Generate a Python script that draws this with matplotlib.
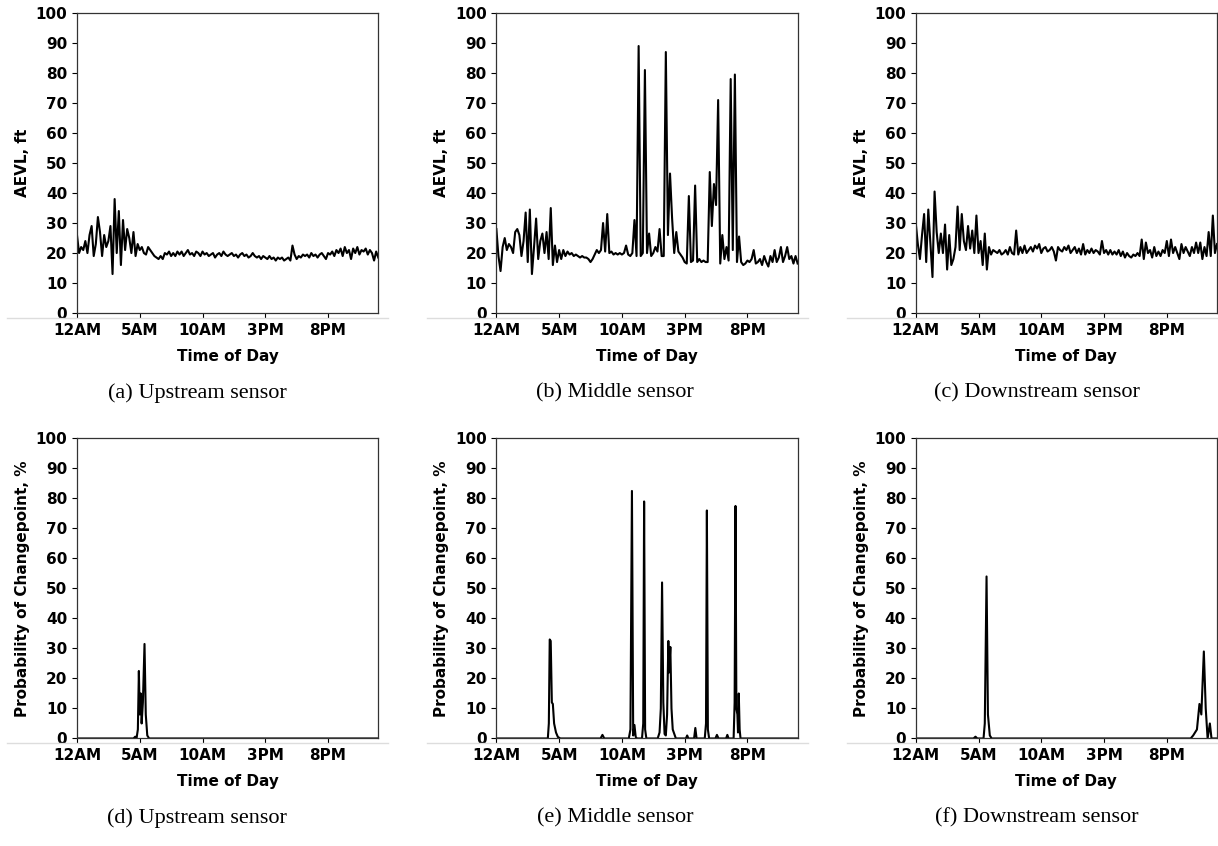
import numpy as np
import matplotlib
matplotlib.use("Agg")
import matplotlib.pyplot as plt
from matplotlib.lines import Line2D

# ------------------------------
# data (AEVL every 10 min, 12AM -> 12AM)
# ------------------------------
aevl_upstream = [
    26, 20, 22, 21, 24, 20, 26, 29, 19, 23, 32, 27, 19, 26, 22, 24, 29, 13, 38, 20,
    34, 16, 31, 21, 28, 25, 20, 27, 19, 23, 21,
    22, 20, 19.5, 22, 21, 20, 19, 18.5, 18, 19, 18, 20, 19.5, 20.5, 19, 20, 19, 20.5,
    19.5, 20.5, 19, 20, 21, 19.5, 20, 19, 20.5, 20, 19, 20.5, 19.5, 20, 19, 19.5,
    20, 18.5, 19.5, 20, 19, 20.5, 19.5, 19,
    19.5, 20, 19, 19.5, 18.5, 19.5, 20, 19, 19.5, 18.5, 19, 20, 19, 18.5, 19, 18,
    19, 18.5, 18, 19, 18, 18.5, 17.5, 18.5,
    18, 18.5, 17.5, 18, 18.5, 17.5, 22.5, 19.5, 18, 19, 18.5, 19.5, 19, 19.5, 18.5,
    20, 19, 19.5, 18.5, 19.5, 20, 19, 18, 20,
    19.5, 20.5, 19, 21, 20, 21.5, 19, 22, 20, 21, 18, 21.5, 20, 22, 19.5, 21, 20.5,
    21.5, 19.5, 21, 20, 17.5, 20.5, 18.5,
]

aevl_middle = [
    28, 19, 14, 22, 25, 21, 23, 22, 20, 27, 28, 26, 19, 24, 33.5, 17, 34.5, 13, 22, 31.5,
    18, 24, 26.5, 20, 27, 18, 35, 16, 22.5, 17, 21, 18, 21, 19, 20.5, 19.5, 20, 19, 19.5, 19,
    18.5, 19, 18.5, 18.5, 18, 17, 18, 19.5, 21, 20, 21, 30, 20.5, 33, 20, 20.5, 19.5, 20, 19.5, 20,
    19.5, 20, 22.5, 19.5, 19, 20, 31, 19, 89, 19, 20, 81, 20, 26.5, 19, 20, 22, 20.5, 28, 19,
    19, 87, 26, 46.5, 31.5, 20, 27, 20.5, 19.5, 18.5, 17, 16.5, 39, 17, 17.5, 42.5, 17, 18, 17, 17.5,
    17, 17, 47, 29, 43, 36, 71, 16.5, 26, 18, 22, 17.5, 78, 21, 79.5, 17, 25.5, 17, 16, 16.5,
    17.5, 17, 18, 21, 16.5, 17, 18, 16, 19, 17, 15.5, 19, 17, 21, 17, 18.5, 22, 17, 19, 22,
    18, 19, 16.5, 19, 16.5,
]

aevl_downstream = [
    30, 23, 18, 26, 33, 17, 34.5, 23, 12, 40.5, 27, 20, 26.5, 20, 29.5, 14.5, 26, 16, 18, 22,
    35.5, 21, 33, 24, 21, 29, 21.5, 27.5, 20, 32.5, 20, 24, 16, 26.5, 14.5, 22, 19.5, 21, 20.5, 20,
    21, 19.5, 20, 21, 19.5, 22, 20, 19.5, 27.5, 19.5, 22, 20, 22.5, 20, 21, 22, 20.5, 22.5, 21.5, 23,
    20, 21.5, 22, 20.5, 21, 22, 20.5, 17.5, 22, 21, 20.5, 22, 21, 22.5, 20, 21, 22, 20, 21.5, 19.5,
    23, 19.5, 21, 20, 21.5, 20, 21, 20.5, 19.5, 24, 20, 21, 19.5, 21, 19.5, 20.5, 19.5, 21, 19, 20.5,
    18.5, 20, 19, 18.5, 19.5, 19, 20, 19, 24.5, 18, 23.5, 20, 21, 18.5, 22, 19, 20.5, 19, 21, 20,
    24, 19, 24.5, 20, 22, 20, 18, 23, 20, 22, 20.5, 19, 22, 20, 23.5, 20, 23.5, 18, 22, 19,
    27, 19, 32.5, 20, 23,
]

# changepoint probability, (hour, %) break points
prob_up_t = [0, 4.5, 4.64, 4.75, 4.85, 4.93, 5.0, 5.08, 5.15, 5.25, 5.38, 5.48, 5.6, 5.75, 24]
prob_up_v = [0, 0, 0.6, 0.2, 3, 22.5, 8, 15, 5, 12, 31.5, 8, 1, 0, 0]

prob_mid_t = [0, 4.1, 4.18, 4.25, 4.33, 4.42, 4.5, 4.6, 4.75, 4.9, 5.1,
              8.3, 8.45, 8.6,
              10.55, 10.68, 10.8, 10.9, 11.0, 11.1, 11.2,
              11.6, 11.7, 11.77, 11.85, 11.95,
              12.85, 13.0, 13.1, 13.2, 13.3, 13.4, 13.5, 13.6, 13.7, 13.76, 13.86, 13.95, 14.05, 14.3,
              15.1, 15.2, 15.3, 15.75, 15.85, 15.95,
              16.6, 16.7, 16.77, 16.85, 16.95,
              17.45, 17.57, 17.7,
              18.3, 18.4, 18.5,
              18.9, 18.98, 19.05, 19.12, 19.2, 19.25, 19.31, 19.38, 19.45, 24]
prob_mid_v = [0, 0, 5, 33, 32.5, 12, 11.5, 5, 2, 0.5, 0,
              0, 1.2, 0,
              0, 3, 82.5, 1, 4.5, 0.5, 0,
              0, 5, 79, 3, 0,
              0, 2, 10, 52, 12, 1.5, 1, 8, 32.5, 22, 30.5, 10, 3, 0,
              0, 1, 0, 0, 3.5, 0,
              0, 5, 76, 3, 0,
              0, 1.2, 0,
              0, 1.2, 0,
              0, 12, 77.5, 10, 8, 2, 15, 3, 0, 0]

prob_down_t = [0, 4.6, 4.76, 4.9, 5.4, 5.5, 5.64, 5.75, 5.9, 6.05,
               21.9, 22.1, 22.4, 22.6, 22.75, 22.95, 23.1, 23.25, 23.43, 23.56, 24]
prob_down_v = [0, 0, 0.6, 0, 0, 5, 54, 8, 1, 0,
               0, 1, 3, 11.5, 8, 29, 10, 0, 5, 0, 0]

hour_ticks = [0, 5, 10, 15, 20]
hour_labels = ["12AM", "5AM", "10AM", "3PM", "8PM"]
captions = ["(a) Upstream sensor", "(b) Middle sensor", "(c) Downstream sensor",
            "(d) Upstream sensor", "(e) Middle sensor", "(f) Downstream sensor"]

# ------------------------------
# figure
# ------------------------------
fig, axes = plt.subplots(2, 3, figsize=(12.18, 8.46), dpi=100)
fig.subplots_adjust(left=0.0632, right=0.9992, top=0.9846, bottom=0.1271,
                    wspace=0.392, hspace=0.418)

top_series = [aevl_upstream, aevl_middle, aevl_downstream]
bottom_series = [(prob_up_t, prob_up_v), (prob_mid_t, prob_mid_v), (prob_down_t, prob_down_v)]

for j in range(3):
    vals = top_series[j]
    hours = np.linspace(0, 24, len(vals))
    axes[0, j].plot(hours, vals, color="black", lw=1.5)
    axes[0, j].set_ylabel("AEVL, ft", fontsize=11, fontweight="bold")

    t, v = bottom_series[j]
    axes[1, j].plot(t, v, color="black", lw=1.5)
    axes[1, j].set_ylabel("Probability of Changepoint, %", fontsize=11, fontweight="bold")

for ax in axes.flat:
    ax.set_xlim(0, 24)
    ax.set_ylim(0, 100)
    ax.set_yticks(range(0, 101, 10))
    ax.set_xticks(hour_ticks)
    ax.set_xticklabels(hour_labels)
    ax.set_xlabel("Time of Day", fontsize=11, fontweight="bold", labelpad=8)
    for lab in ax.get_xticklabels() + ax.get_yticklabels():
        lab.set_fontsize(11)
        lab.set_fontweight("bold")
    for sp in ax.spines.values():
        sp.set_color("#333333")
        sp.set_linewidth(0.9)

# captions under each panel (subfigure style)
cap_x = [197 / 1218, 615 / 1218, 1037 / 1218]
for k, cap in enumerate(captions):
    y = 1 - 393 / 846 if k < 3 else 1 - 818 / 846
    fig.text(cap_x[k % 3], y, cap, ha="center", va="center",
             fontsize=16, family="Liberation Serif")

# faint separator lines under each plot image
for (x0, x1, yy) in [(7, 388, 318), (427, 808, 318), (847, 1218, 318),
                     (7, 388, 743), (427, 808, 743), (847, 1218, 743)]:
    fig.add_artist(Line2D([x0 / 1218, x1 / 1218], [1 - yy / 846, 1 - yy / 846],
                          transform=fig.transFigure, color="#dddddd", lw=1))

plt.savefig("out.png", dpi=100)
plt.close()
